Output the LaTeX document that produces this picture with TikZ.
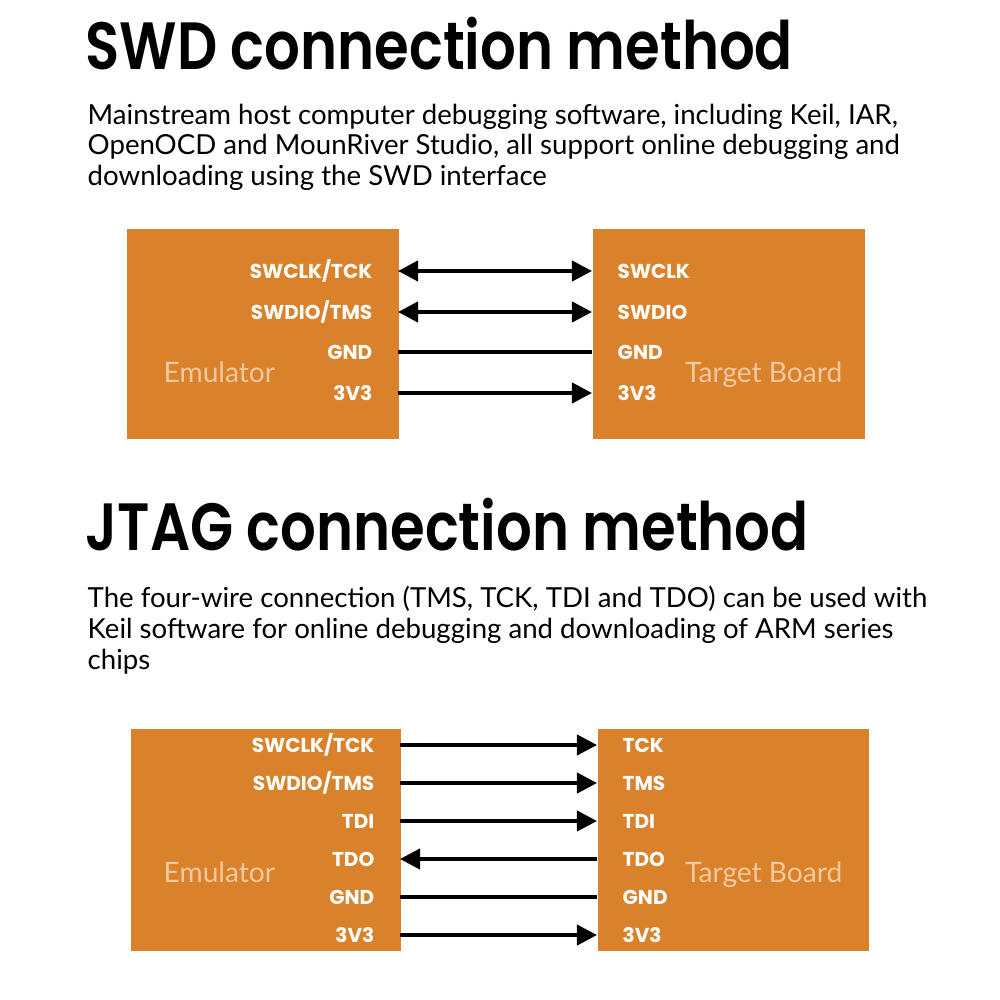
\documentclass[tikz,border=0pt]{standalone}
\usepackage{fontspec}
\setmainfont{Poppins}
\newfontfamily\descfont{Lato}
\newfontfamily\headfont[FakeStretch=0.84]{Poppins SemiBold}
\usepackage{xcolor}
\usetikzlibrary{arrows.meta,positioning}
\definecolor{boardorange}{HTML}{D9822B}
\definecolor{boardlabel}{HTML}{F4C9A0}

\begin{document}
\begin{tikzpicture}[
    x=0.01cm,y=-0.01cm,
    board/.style={fill=boardorange,draw=none,minimum width=2.72cm,minimum height=2.1cm,inner sep=0pt},
    heading/.style={anchor=west,inner sep=0pt,font=\headfont\fontsize{19}{22}\selectfont},
    desc/.style={anchor=north west,inner sep=0pt,align=left,font=\descfont\fontsize{7.85}{8.8}\selectfont},
    pinl/.style={anchor=east,inner xsep=0.25cm,inner ysep=0pt,text=white,font=\fontsize{5.7}{6}\selectfont\bfseries},
    pinr/.style={anchor=west,inner xsep=0.25cm,inner ysep=0pt,text=white,font=\fontsize{5.7}{6}\selectfont\bfseries},
    boardname/.style={text=boardlabel,inner sep=0pt,font=\descfont\fontsize{8}{9}\selectfont},
    wire/.style={line width=0.04cm},
    >={Triangle[length=0.2cm,width=0.2cm]}
  ]
    \useasboundingbox[fill=white] (0,0) rectangle (1000,1000);

    % SWD
    \node[heading] (swdtitle) at (85,44) {SWD connection method};
    \node[desc] (swddesc) at (87,103) {Mainstream host computer debugging software, including Keil, IAR,\\
      OpenOCD and MounRiver Studio, all support online debugging and\\
      downloading using the SWD interface};

    \node[board,anchor=north west] (emu) at (126,228) {};
    \node[board,anchor=north west] (tgt) at (592,228) {};
    \node[boardname,anchor=base west] (emuname) at (163,382) {Emulator};
    \node[boardname,anchor=base east] (tgtname) at (843,382) {Target Board};

    \node[pinl] (e1) at (398,271) {SWCLK/TCK};
    \node[pinl] (e2) at (398,312) {SWDIO/TMS};
    \node[pinl] (e3) at (398,352) {GND};
    \node[pinl] (e4) at (398,393) {3V3};
    \node[pinr] (t1) at (592,271) {SWCLK};
    \node[pinr] (t2) at (592,312) {SWDIO};
    \node[pinr] (t3) at (592,352) {GND};
    \node[pinr] (t4) at (592,393) {3V3};

    \draw[wire,<->] (e1) -- (t1);
    \draw[wire,<->] (e2) -- (t2);
    \draw[wire] (e3) -- (t3);
    \draw[wire,->] (e4) -- (t4);

    % JTAG
    \node[heading] (jtagtitle) at (85,525) {JTAG connection method};
    \node[desc] (jtagdesc) at (87,585) {The four-wire connection (TMS, TCK, TDI and TDO) can be used with\\
      Keil software for online debugging and downloading of ARM series\\
      chips};

    \node[board,anchor=north west,minimum width=2.7cm,minimum height=2.22cm] (jemu) at (130,728) {};
    \node[board,anchor=north west,minimum width=2.71cm,minimum height=2.22cm] (jtgt) at (597,728) {};
    \node[boardname,anchor=base west] (jemuname) at (163,882) {Emulator};
    \node[boardname,anchor=base east] (jtgtname) at (843,882) {Target Board};

    \node[pinl] (je1) at (400,745) {SWCLK/TCK};
    \node[pinl] (je2) at (400,783) {SWDIO/TMS};
    \node[pinl] (je3) at (400,821) {TDI};
    \node[pinl] (je4) at (400,859) {TDO};
    \node[pinl] (je5) at (400,897) {GND};
    \node[pinl] (je6) at (400,935) {3V3};
    \node[pinr] (jt1) at (597,745) {TCK};
    \node[pinr] (jt2) at (597,783) {TMS};
    \node[pinr] (jt3) at (597,821) {TDI};
    \node[pinr] (jt4) at (597,859) {TDO};
    \node[pinr] (jt5) at (597,897) {GND};
    \node[pinr] (jt6) at (597,935) {3V3};

    \draw[wire,->] (je1) -- (jt1);
    \draw[wire,->] (je2) -- (jt2);
    \draw[wire,->] (je3) -- (jt3);
    \draw[wire,<-] (je4) -- (jt4);
    \draw[wire] (je5) -- (jt5);
    \draw[wire,->] (je6) -- (jt6);
  \end{tikzpicture}
\end{document}
